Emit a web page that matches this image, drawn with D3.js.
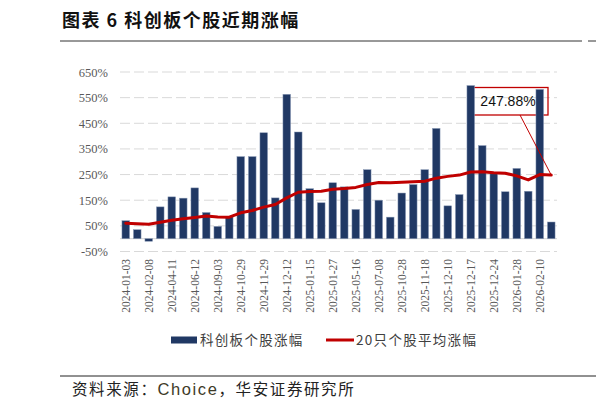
<!DOCTYPE html>
<html>
<head>
<meta charset="utf-8">
<script src="https://cdn.jsdelivr.net/npm/d3@7"></script>
<style>
  body { margin: 0; background: #fff; }
  svg { display: block; }
  .axis text { font-family: "Liberation Serif", "DejaVu Serif", serif; fill: #595959; }
</style>
</head>
<body>
<div id="chart"></div>
<script>
// values
const tickLabels = ['2024-01-03', '2024-02-08', '2024-04-11', '2024-06-12', '2024-09-03',
  '2024-10-29', '2024-11-29', '2024-12-12', '2025-01-15', '2025-01-27', '2025-05-16',
  '2025-07-08', '2025-10-28', '2025-11-18', '2025-12-10', '2025-12-17', '2025-12-24',
  '2026-01-28', '2026-02-10']

const stockGain = [70, 35, -10, 124, 163, 158, 198, 102, 48, 85, 320, 320, 413, 159, 563,
  416, 195, 140, 218, 202, 114, 269, 150, 84, 178, 211, 269, 430, 128, 172, 597, 363, 253,
  183, 274, 185, 582, 65]

const avgGain = [60, 58, 56, 64, 72, 78, 83, 88, 85, 84, 101, 110, 123, 133, 159, 181, 184,
  185, 193, 196, 200, 211, 219, 218, 220, 222, 224, 236, 243, 248, 260, 261, 257, 255, 245,
  229, 250, 247.88]

const yTicks = [-50, 50, 150, 250, 350, 450, 550, 650]

const width = 596
const height = 409
const plot = { left: 120, right: 557, top: 72, bottom: 251.5 }

const svg = d3
  .select('#chart')
  .append('svg')
  .attr('width', width)
  .attr('height', height)

svg.append('rect').attr('width', width).attr('height', height).attr('fill', '#fff')

// title
svg
  .append('text')
  .attr('x', 62)
  .attr('y', 27)
  .attr('font-family', '"Noto Sans CJK SC", sans-serif')
  .attr('font-weight', 'bold')
  .attr('font-size', 18)
  .attr('letter-spacing', 1.5)
  .attr('fill', '#111')
  .text('图表 6 科创板个股近期涨幅')

svg.append('line')
  .attr('x1', 60).attr('x2', 582).attr('y1', 41).attr('y2', 41)
  .attr('stroke', '#333').attr('stroke-width', 1)
svg.append('line')
  .attr('x1', 588).attr('x2', 596).attr('y1', 41).attr('y2', 41)
  .attr('stroke', '#333').attr('stroke-width', 1)

// scales
const xPositionScale = d3
  .scaleBand()
  .domain(d3.range(stockGain.length))
  .range([plot.left, plot.right])
  .paddingInner(0.34)
  .paddingOuter(0.17)

const yPositionScale = d3
  .scaleLinear()
  .domain([-50, 650])
  .range([plot.bottom, plot.top])

// gridlines
svg
  .append('g')
  .selectAll('line')
  .data(yTicks)
  .enter()
  .append('line')
  .attr('x1', plot.left)
  .attr('x2', plot.right)
  .attr('y1', d => yPositionScale(d))
  .attr('y2', d => yPositionScale(d))
  .attr('stroke', '#d9d9d9')
  .attr('stroke-width', 1)
  .attr('stroke-dasharray', '10,4')

// zero line
svg.append('line')
  .attr('x1', plot.left).attr('x2', plot.right)
  .attr('y1', yPositionScale(0)).attr('y2', yPositionScale(0))
  .attr('stroke', '#d9d9d9').attr('stroke-width', 1.2)

// y axis
const yAxis = d3.axisLeft(yPositionScale)
  .tickValues(yTicks)
  .tickSize(0)
  .tickPadding(0)
  .tickFormat(d => d + '%')
svg
  .append('g')
  .attr('class', 'axis y-axis')
  .attr('transform', 'translate(108,0)')
  .attr('font-family', null)
  .call(yAxis)
  .call(g => g.select('.domain').remove())
  .selectAll('text')
  .style('font-size', '12.5px')

// x axis, every other date
const xAxis = d3.axisBottom(xPositionScale)
  .tickValues(d3.range(0, stockGain.length, 2))
  .tickSize(0)
  .tickFormat(i => tickLabels[i / 2])
svg
  .append('g')
  .attr('class', 'axis x-axis')
  .attr('transform', 'translate(0,259)')
  .call(xAxis)
  .call(g => g.select('.domain').remove())
  .selectAll('text')
  .style('font-size', '11.5px')
  .attr('text-anchor', 'end')
  .attr('dy', '0.35em')
  .attr('transform', 'rotate(-90)')
  .attr('x', 0)
  .attr('y', 0)

// callout for the last point (sits under the bars)
const lastI = avgGain.length - 1
const lastX = xPositionScale(lastI) + xPositionScale.bandwidth() / 2
const lastY = yPositionScale(avgGain[lastI])

svg.append('rect')
  .attr('x', 472).attr('y', 87.5)
  .attr('width', 76).attr('height', 27.5)
  .attr('fill', 'none')
  .attr('stroke', '#c00000')
  .attr('stroke-width', 1.3)

svg.append('text')
  .attr('x', 508)
  .attr('y', 101.5)
  .attr('dy', '0.35em')
  .attr('text-anchor', 'middle')
  .attr('font-family', '"Liberation Sans", Arial, sans-serif')
  .attr('font-size', 14)
  .attr('fill', '#111')
  .text(avgGain[lastI].toFixed(2) + '%')

// bars
svg
  .append('g')
  .selectAll('rect')
  .data(stockGain)
  .enter()
  .append('rect')
  .attr('x', (d, i) => xPositionScale(i))
  .attr('width', xPositionScale.bandwidth())
  .attr('y', d => yPositionScale(Math.max(0, d)))
  .attr('height', d => Math.abs(yPositionScale(d) - yPositionScale(0)))
  .attr('fill', '#203864')
  .attr('stroke', '#8a9ab5')
  .attr('stroke-width', 0.5)

// average line
const line = d3
  .line()
  .x((d, i) => xPositionScale(i) + xPositionScale.bandwidth() / 2)
  .y(d => yPositionScale(d))

svg
  .append('path')
  .datum(avgGain)
  .attr('d', line)
  .attr('fill', 'none')
  .attr('stroke', '#c00000')
  .attr('stroke-width', 3)
  .attr('stroke-linejoin', 'round')
  .attr('stroke-linecap', 'round')

svg.append('line')
  .attr('x1', 520).attr('y1', 115)
  .attr('x2', lastX).attr('y2', lastY)
  .attr('stroke', '#c00000').attr('stroke-width', 1)

// legend
const legend = svg.append('g').attr('font-family', '"Noto Sans CJK SC", sans-serif')
legend.append('rect')
  .attr('x', 171).attr('y', 336.5).attr('width', 26).attr('height', 7)
  .attr('fill', '#203864')
legend.append('text')
  .attr('x', 200).attr('y', 340).attr('dy', '0.35em')
  .attr('font-size', 13.5).attr('letter-spacing', 1.3).attr('fill', '#404040')
  .text('科创板个股涨幅')
legend.append('line')
  .attr('x1', 326).attr('x2', 354).attr('y1', 340).attr('y2', 340)
  .attr('stroke', '#c00000').attr('stroke-width', 3)
legend.append('text')
  .attr('x', 356).attr('y', 340).attr('dy', '0.35em')
  .attr('font-size', 13.5).attr('letter-spacing', 1.3).attr('fill', '#404040')
  .text('20只个股平均涨幅')

// source
svg.append('line')
  .attr('x1', 60).attr('x2', 596).attr('y1', 376).attr('y2', 376)
  .attr('stroke', '#222').attr('stroke-width', 1)

const source = svg.append('text')
  .attr('x', 72)
  .attr('y', 390)
  .attr('dy', '0.35em')
  .attr('font-family', '"Noto Sans CJK SC", sans-serif')
  .attr('font-size', 15.5)
  .attr('letter-spacing', 1.6)
  .attr('fill', '#222')
source.append('tspan').text('资料来源：')
source.append('tspan').attr('font-family', '"Liberation Sans", Arial, sans-serif')
  .attr('font-size', 16.5).attr('fill', '#3d3a28').text('Choice')
source.append('tspan').text('，华安证券研究所')
</script>
</body>
</html>
